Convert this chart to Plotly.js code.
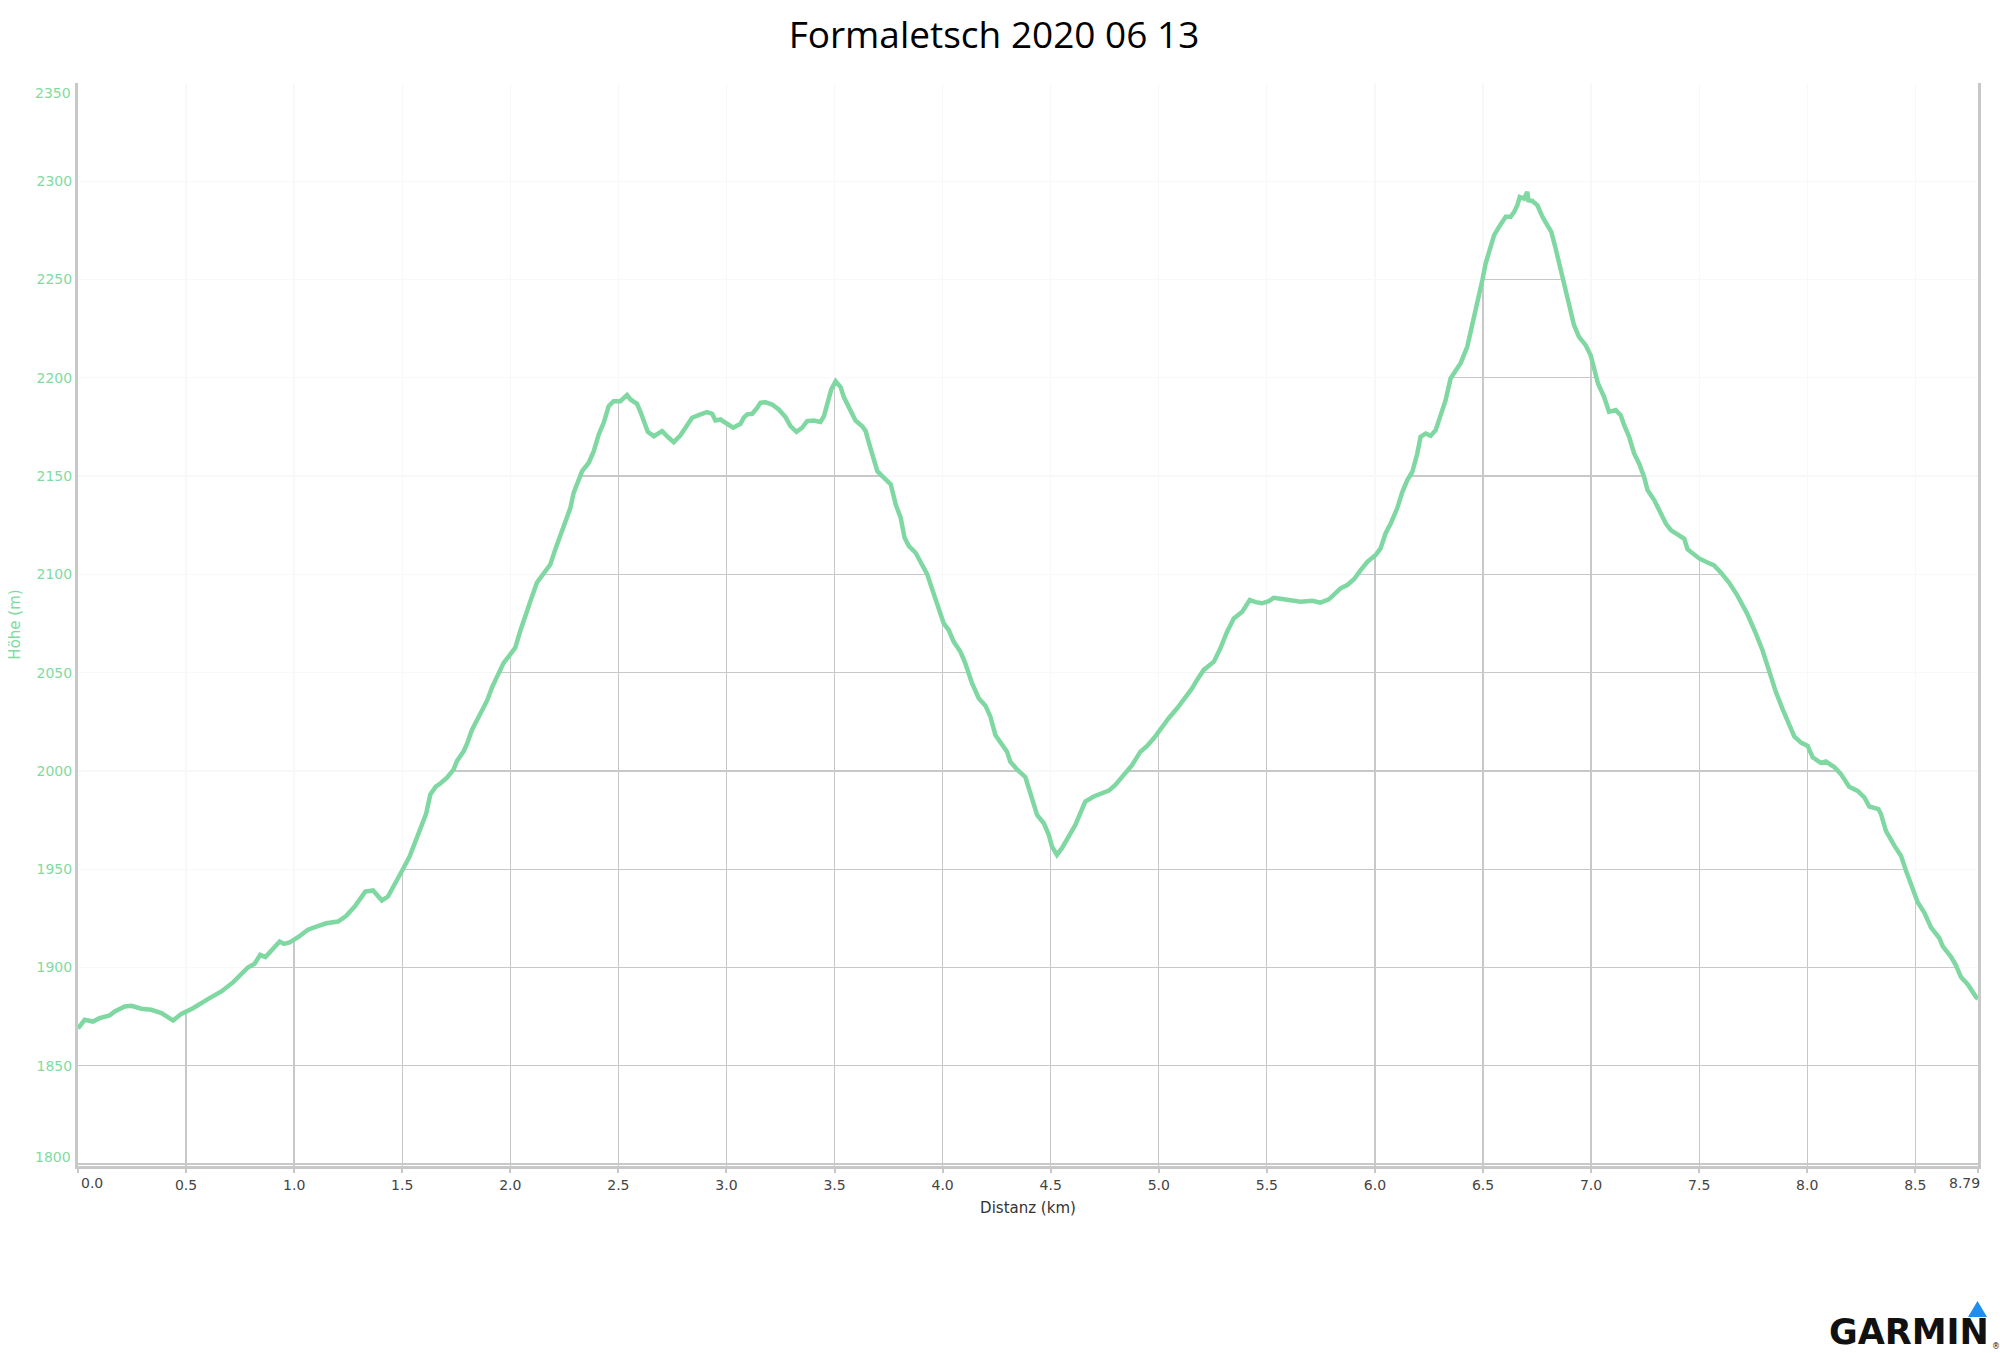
<!DOCTYPE html>
<html>
<head>
<meta charset="utf-8">
<script src="https://cdn.plot.ly/plotly-3.0.1.min.js"></script>
<style>
html,body{margin:0;padding:0;background:#fff;}
#chart{width:2000px;height:1353px;}
</style>
</head>
<body>
<div id="chart"></div>
<script>
// ---- data ----
const distanceKm = [
0.000,0.031,0.069,0.100,0.146,0.170,0.216,0.247,0.293,0.339,0.386,0.440,0.478,0.532,0.601,0.663,0.717,0.786,0.817,0.843,
0.867,0.902,0.933,0.953,0.979,1.018,1.064,1.103,1.149,1.203,1.241,1.280,1.329,1.365,1.406,1.434,1.465,1.503,1.534,1.565,
1.585,1.610,1.630,1.655,1.676,1.707,1.738,1.753,1.784,1.799,1.823,1.861,1.892,1.915,1.946,1.969,2.000,2.023,2.046,2.069,
2.093,2.123,2.154,2.185,2.208,2.239,2.262,2.278,2.293,2.316,2.332,2.363,2.386,2.409,2.432,2.455,2.478,2.509,2.540,2.556,
2.586,2.602,2.620,2.636,2.664,2.702,2.733,2.756,2.787,2.810,2.841,2.880,2.910,2.934,2.949,2.972,3.003,3.031,3.065,3.080,
3.096,3.119,3.142,3.157,3.181,3.211,3.242,3.273,3.296,3.324,3.350,3.373,3.404,3.435,3.451,3.469,3.485,3.505,3.528,3.543,
3.566,3.597,3.628,3.644,3.659,3.679,3.698,3.721,3.760,3.783,3.806,3.824,3.844,3.875,3.898,3.929,3.950,3.974,4.005,4.028,
4.051,4.082,4.105,4.136,4.167,4.198,4.221,4.244,4.275,4.298,4.313,4.344,4.383,4.406,4.437,4.468,4.491,4.506,4.529,4.552,
4.583,4.614,4.637,4.660,4.699,4.730,4.769,4.799,4.838,4.877,4.915,4.946,4.977,5.008,5.046,5.085,5.116,5.154,5.177,5.208,
5.255,5.285,5.316,5.347,5.386,5.421,5.448,5.478,5.509,5.532,5.563,5.617,5.656,5.710,5.748,5.787,5.810,5.841,5.872,5.903,
5.934,5.965,6.003,6.026,6.049,6.073,6.103,6.127,6.150,6.173,6.196,6.211,6.235,6.258,6.281,6.304,6.327,6.350,6.373,6.397,
6.427,6.451,6.474,6.497,6.512,6.528,6.551,6.574,6.605,6.628,6.644,6.659,6.670,6.690,6.705,6.710,6.728,6.752,6.775,6.798,
6.816,6.836,6.855,6.867,6.887,6.906,6.921,6.944,6.975,6.998,7.014,7.032,7.060,7.083,7.114,7.137,7.153,7.176,7.199,7.222,
7.245,7.261,7.292,7.323,7.346,7.369,7.415,7.431,7.446,7.469,7.500,7.531,7.569,7.600,7.639,7.677,7.724,7.762,7.793,7.824,
7.855,7.886,7.917,7.940,7.971,8.002,8.025,8.063,8.086,8.125,8.156,8.194,8.233,8.264,8.287,8.329,8.341,8.364,8.403,8.434,
8.457,8.488,8.511,8.542,8.573,8.611,8.627,8.665,8.688,8.711,8.742,8.781,8.790
];
const elevationM = [
1869,1873.4,1872.5,1874.2,1875.6,1877.6,1880.2,1880.5,1879,1878.5,1876.8,1873,1876.4,1879.3,1883.9,1887.8,1892.4,1900,1901.9,1906.4,
1905.3,1909.8,1913.2,1912,1912.7,1915.4,1919.2,1920.8,1922.5,1923.4,1926.3,1931,1938.6,1939.2,1934.1,1936.1,1942.9,1950,1956.4,1964.9,
1970,1978,1988,1992,1993.6,1996.6,2000.8,2005,2010,2013.6,2021,2028.8,2035.6,2042.4,2049.2,2055,2059.3,2062.7,2071.2,2078,
2086.4,2095.8,2100,2105,2112.7,2122,2128,2133.9,2141.5,2147.5,2152.5,2156.8,2162.7,2171.2,2177.1,2185.6,2188.1,2188.1,2191.2,2189,
2186.8,2182.7,2177.1,2172.5,2170.3,2172.9,2169.5,2167.3,2170.8,2174.9,2179.7,2181.4,2182.5,2181.7,2178.3,2178.8,2176.3,2174.6,2176.6,2179.7,
2181.4,2181.7,2184.7,2187.3,2187.6,2186.4,2183.9,2180,2175.4,2172.5,2174.6,2178,2178.3,2177.6,2180.5,2187.3,2194.1,2198.3,2195.3,2190.2,
2184.7,2178.3,2175.4,2172.9,2166.9,2160.2,2152.5,2150,2145.8,2135.6,2128.8,2118.6,2114.4,2111,2105.9,2100,2093,2084.4,2075.1,2071.7,
2065.8,2060.7,2054.7,2044.6,2037,2033.2,2027.6,2018.3,2013.7,2009.8,2004.7,2000.8,1996.8,1988.6,1977.6,1973.4,1967.5,1961.5,1957.3,1960.7,
1966.9,1972.5,1978.5,1984.4,1987,1988.6,1990,1992.9,1998,2003.1,2009.8,2012.7,2016.6,2021.4,2026.8,2031.9,2036.1,2042,2046.3,2051.4,
2055.6,2062.4,2070.8,2077.6,2081,2087,2085.9,2085.3,2086.4,2088.1,2087.6,2086.4,2086.1,2086.6,2085.6,2087.3,2090,2092.9,2094.6,2097.5,
2102.2,2106.4,2109.8,2113.2,2120.8,2125.9,2133.6,2142,2148,2152.2,2161.5,2170,2171.7,2170.5,2173.4,2181.9,2188.6,2199.7,2203.9,2207.6,
2215.8,2226.8,2237.8,2249.7,2258.1,2264.9,2272.5,2276.8,2281.9,2281.9,2284.4,2287.8,2292,2291.2,2294.6,2290.3,2290,2287.8,2281.9,2277.6,
2274.2,2265.8,2257.3,2251.4,2242,2234.4,2226.8,2220.8,2216.6,2211.5,2205.6,2197.1,2190.3,2182.7,2183.6,2181,2175.9,2170,2161.5,2156.4,
2149.7,2142.9,2137.8,2131,2125.9,2122.5,2119.2,2118.1,2112.8,2110.6,2108.1,2106.4,2104.6,2101,2095.7,2089.2,2079.6,2070,2061.4,2050.8,
2040.1,2031.5,2024,2017.6,2014.4,2012.7,2006.9,2004.1,2004.8,2002,1998.4,1992,1989.8,1986.6,1981.9,1980.6,1978.1,1969.5,1962,1956.7,
1949.2,1939.6,1933.2,1927.8,1920.3,1915,1910.7,1905.4,1901.1,1895.1,1891.5,1885,1884
];
const xTickVals = [0,0.5,1,1.5,2,2.5,3,3.5,4,4.5,5,5.5,6,6.5,7,7.5,8,8.5,8.79];
const xTickText = ['0.0','0.5','1.0','1.5','2.0','2.5','3.0','3.5','4.0','4.5','5.0','5.5','6.0','6.5','7.0','7.5','8.0','8.5','8.79'];
const yTickVals = [1800,1850,1900,1950,2000,2050,2100,2150,2200,2250,2300,2350];
const yTickText = ['1800','1850','1900','1950','2000','2050','2100','2150','2200','2250','2300','2350'];
const chartTitle = 'Formaletsch 2020 06 13';
const xTitle = 'Distanz (km)';
const yTitle = 'Höhe (m)';

// ---- styling ----
const W = 2000, H = 1353;
const M = {l: 78, r: 22, t: 83, b: 187};
const Y_RANGE = [1799, 2350];
const X_RANGE = [0, distanceKm[distanceKm.length - 1]];
const LINE = '#7fd7a1';
const LABEL_GREEN = '#7fdba0';
const GRID = '#c8c8c8';
const TICKFONT = 'DejaVu Sans, Verdana, sans-serif';

const plotW = W - M.l - M.r, plotH = H - M.t - M.b;
const pxX = px => (px - M.l) / plotW;
const pxY = py => (H - M.b - py) / plotH;

// first/last tick labels are placed by annotations (shifted inwards like the reference)
const xText = xTickText.map((t, i) => (i === 0 || i === xTickText.length - 1) ? '' : t);
const yText = yTickText.map((t, i) => (i === 0 || i === yTickText.length - 1) ? '' : t);

const traces = [
  {
    x: distanceKm,
    y: distanceKm.map(() => Y_RANGE[1]),
    type: 'scatter', mode: 'lines',
    line: {width: 0, color: 'rgba(0,0,0,0)'},
    hoverinfo: 'skip', showlegend: false
  },
  {
    x: distanceKm,
    y: elevationM,
    type: 'scatter', mode: 'lines',
    fill: 'tonexty',
    fillcolor: 'rgba(255,255,255,0.87)',
    line: {color: LINE, width: 4.5, shape: 'linear'},
    showlegend: false
  }
];

const annotations = [
  {xref: 'x', yref: 'paper', x: xTickVals[0], y: 0, yshift: -17, xshift: 14,
   text: xTickText[0], showarrow: false, xanchor: 'center', yanchor: 'middle',
   font: {family: TICKFONT, size: 14, color: '#444'}},
  {xref: 'x', yref: 'paper', x: xTickVals[xTickVals.length - 1], y: 0, yshift: -17, xshift: -14,
   text: xTickText[xTickText.length - 1], showarrow: false, xanchor: 'center', yanchor: 'middle',
   font: {family: TICKFONT, size: 14, color: '#444'}},
  {xref: 'paper', yref: 'y', x: 0, y: yTickVals[yTickVals.length - 1], xshift: -5, yshift: -10,
   text: yTickText[yTickText.length - 1], showarrow: false, xanchor: 'right', yanchor: 'middle',
   font: {family: TICKFONT, size: 14, color: LABEL_GREEN}},
  {xref: 'paper', yref: 'y', x: 0, y: yTickVals[0], xshift: -5, yshift: 7,
   text: yTickText[0], showarrow: false, xanchor: 'right', yanchor: 'middle',
   font: {family: TICKFONT, size: 14, color: LABEL_GREEN}},
  // Garmin logo
  {xref: 'paper', yref: 'paper', x: pxX(1990), y: pxY(1353), xanchor: 'right', yanchor: 'bottom',
   text: '<b>GARMIN</b>', showarrow: false, borderpad: 0,
   font: {family: 'DejaVu Sans, sans-serif', size: 35, color: '#111'}},
  {xref: 'paper', yref: 'paper', x: pxX(1991), y: pxY(1352), xanchor: 'left', yanchor: 'bottom',
   text: '®', showarrow: false, borderpad: 0,
   font: {family: 'DejaVu Sans, sans-serif', size: 8, color: '#111'}}
];

const shapes = [
  {type: 'path', xref: 'paper', yref: 'paper',
   path: 'M ' + pxX(1968) + ' ' + pxY(1317) + ' L ' + pxX(1987) + ' ' + pxY(1317) + ' L ' + pxX(1977.5) + ' ' + pxY(1301) + ' Z',
   fillcolor: '#1e8ff0', line: {width: 0}}
];

const layout = {
  width: W, height: H,
  margin: M,
  paper_bgcolor: '#fff', plot_bgcolor: '#fff',
  showlegend: false,
  title: {
    text: chartTitle,
    font: {family: 'Open Sans, Liberation Sans, Arial, sans-serif', size: 37, color: '#000'},
    x: 0.497, xref: 'container', xanchor: 'center',
    y: 1 - 35 / H, yref: 'container', yanchor: 'middle'
  },
  xaxis: {
    range: X_RANGE,
    tickmode: 'array', tickvals: xTickVals, ticktext: xText,
    showgrid: true, gridcolor: GRID, gridwidth: 1.3,
    zeroline: false,
    showline: true, linecolor: GRID, linewidth: 3,
    ticks: 'outside', ticklen: 4, tickwidth: 2, tickcolor: GRID,
    tickfont: {family: TICKFONT, size: 14, color: '#444'},
    title: {text: xTitle, standoff: 11, font: {family: TICKFONT, size: 15, color: '#333'}},
    fixedrange: true
  },
  yaxis: {
    range: Y_RANGE,
    tickmode: 'array', tickvals: yTickVals, ticktext: yText,
    showgrid: true, gridcolor: GRID, gridwidth: 1.3,
    zeroline: false,
    showline: true, linecolor: GRID, linewidth: 3, mirror: true,
    ticks: '', ticklen: 0,
    tickfont: {family: TICKFONT, size: 14, color: LABEL_GREEN},
    title: {text: yTitle, standoff: 13, font: {family: TICKFONT, size: 15, color: LABEL_GREEN}},
    fixedrange: true
  },
  annotations: annotations,
  shapes: shapes
};

Plotly.newPlot('chart', traces, layout, {displayModeBar: false, staticPlot: true});
</script>
</body>
</html>
